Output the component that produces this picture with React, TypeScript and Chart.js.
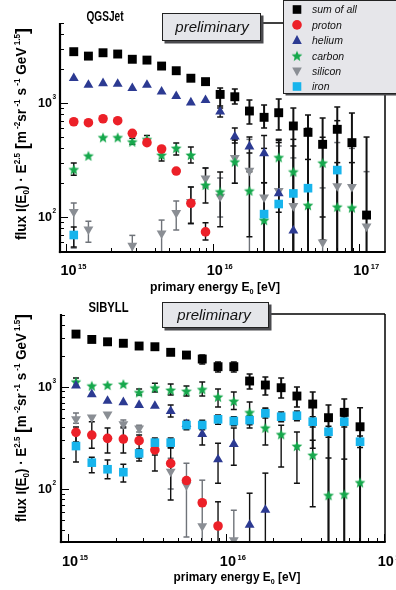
import React, { useEffect, useRef } from "react";
import { Chart, registerables } from "chart.js";
Chart.register(...registerables);

const FONT = '"Liberation Sans", Arial, sans-serif';

// ---------- energy bins (eV) ----------
const energiesTop = [
  1.122e15, 1.413e15, 1.778e15, 2.239e15, 2.818e15, 3.548e15, 4.467e15, 5.623e15, 7.079e15, 8.913e15,
  1.122e16, 1.413e16, 1.778e16, 2.239e16, 2.818e16, 3.548e16, 4.467e16, 5.623e16, 7.079e16, 8.913e16,
  1.122e17,
];
const energiesBottom = [
  1.122e15, 1.413e15, 1.778e15, 2.239e15, 2.818e15, 3.548e15, 4.467e15, 5.623e15, 7.079e15, 8.913e15,
  1.122e16, 1.413e16, 1.778e16, 2.239e16, 2.818e16, 3.548e16, 4.467e16, 5.623e16, 7.079e16,
];

const N = null;

// ---------- QGSJet (top) ----------
const sumTop = [2820, 2580, 2760, 2690, 2420, 2380, 2110, 1920, 1650, 1540, 1190, 1135, 851, 749, 822, 629, 553, 434, 588, 449, 104];
const sumTopLo = [N, N, N, N, N, N, N, N, N, N, 904, 980, 655, 604, 580, 30, 30, 63, 30, 30, 30];
const sumTopHi = [N, N, N, N, N, N, N, N, N, N, 1354, 1327, 1062, 960, 1084, 904, 785, 739, 923, 817, 503];

const protonTop = [685, 672, 728, 700, 542, 449, 395, 253, 132, 74, N, N, N, N, N, N, N, N, N, N, N];
const protonTopLo = [N, N, N, N, N, N, N, N, 88, 63, N, N, N, N, N, N, N, N, N, N, N];
const protonTopHi = [N, N, N, N, N, N, N, N, 183, 89, N, N, N, N, N, N, N, N, N, N, N];

const heliumTop = [1650, 1440, 1490, 1470, 1350, 1440, 1260, 1150, 1010, 1060, 839, 506, 415, 362, 161, 76, N, N, N, N, N];
const heliumTopLo = [N, N, N, N, N, N, N, N, N, N, 754, 446, 249, 200, 30, 30, N, N, N, N, N];
const heliumTopHi = [N, N, N, N, N, N, N, N, N, N, 941, 604, 503, 520, 470, 170, N, N, N, N, N];

const carbonTop = [262, 345, 500, 500, 458, 481, 350, 403, 350, 191, 167, 306, 170, 94, 334, 250, 127, 299, 123, 121, N];
const carbonTopLo = [233, N, N, N, 435, 445, 310, 350, 298, 133, 82, 198, 67, 30, 110, 30, 30, 100, 30, 30, N];
const carbonTopHi = [298, N, N, N, 490, 520, 403, 446, 411, 269, 248, 473, 364, 200, 480, 420, 320, 500, 300, 300, N];

const siliconTop = [111, 78, N, N, 56, N, 72, 109, 136, 218, 151, 330, 255, 149, 170, 125, N, 60, 187, 184, 83];
const siliconTopLo = [53.5, 60, N, N, 30, N, 48, 77, 87, 183, 100, 198, 30, 30, 30, 30, N, 30, 30, 30, 30];
const siliconTopHi = [133, 92, N, N, 69, N, 94, 138, 183, 269, 220, 473, 480, 350, 420, 330, N, 180, 450, 400, 250];

const ironTop = [69.5, N, N, N, N, N, N, N, N, N, N, N, N, 106, 130, 161, 179, N, 258, N, N];
const ironTopLo = [54.6, N, N, N, N, N, N, N, N, N, N, N, N, 30, 30, 30, 30, N, 30, N, N];
const ironTopHi = [81.7, N, N, N, N, N, N, N, N, N, N, N, N, 400, 450, 480, 600, N, 700, N, N];

// ---------- SIBYLL (bottom) ----------
const sumBot = [3270, 2900, 2750, 2660, 2500, 2460, 2170, 2040, 1865, 1570, 1570, 1137, 1039, 978, 811, 677, 498, 562, 406];
const sumBotLo = [N, N, N, N, N, N, N, N, 1667, 1393, 1393, 949, 829, 775, 633, 250, 30, 30, 30];
const sumBotHi = [N, N, N, N, N, N, N, N, 2041, 1743, 1743, 1332, 1244, 1216, 993, 888, 663, 759, 623];

const protonBot = [358, 337, 313, 308, 297, 241, 178, 121, 73.4, 43.5, N, N, N, N, N, N, N, N, N];
const protonBotLo = [288, 251, 225, 225, 201, 150, 78, N, N, 25, N, N, N, N, N, N, N, N, N];
const protonBotHi = [403, 455, 394, 403, 337, 215, 252, N, N, 75, N, N, N, N, N, N, N, N, N];

const heliumBot = [1023, 843, 725, 704, 662, 648, 578, 430, 343, 195, 275, 44.5, 62.4, N, N, N, N, N, N];
const heliumBotLo = [N, N, N, N, N, N, 505, N, 270, 114, 171, 25, 25, N, N, N, N, N, N];
const heliumBotHi = [N, N, N, N, N, N, 662, N, 420, 280, 394, 91, 143, N, N, N, N, N, N];

const carbonBot = [1120, 1023, 1039, 1063, 881, 978, 929, 908, 944, 798, 725, 562, 397, 343, 263, 215, 87, 89, 116];
const carbonBotLo = [1007, N, N, N, 829, 890, 829, 811, 811, 633, 600, 395, 270, 164, 114, 67, 30, 30, 30];
const carbonBotHi = [1215, N, N, N, 949, 1080, 1063, 1015, 1113, 949, 888, 708, 620, 420, 360, 300, 201, 196, 300];

const siliconBot = [483, 502, 537, 432, 392, N, 148, 109, 43.5, N, 31.7, N, N, N, N, N, N, N, N];
const siliconBotLo = [440, N, N, 392, 360, N, 100, 34, 25, N, 25, N, N, N, N, N, N, N, N];
const siliconBotHi = [555, N, N, 472, 420, N, 200, 179, 122, N, 62, N, N, N, N, N, N, N, N];

const ironBot = [263, 181, 156, 146, 223, 284, 284, 422, 422, 480, 462, 472, 550, 509, 521, 455, 363, 455, 290];
const ironBotLo = [184, 144, 126, 117, 188, 255, 255, 380, 380, 430, 415, 425, 495, 455, 465, 405, 320, 405, 255];
const ironBotHi = [337, 205, 192, 175, 246, 315, 315, 470, 470, 530, 510, 520, 605, 565, 580, 510, 410, 510, 330];

// ---------- legend ----------
const legendLabels = ["sum of all", "proton", "helium", "carbon", "silicon", "iron"];

const COLORS = {
  sum: "#000000",
  proton: "#ec2028",
  helium: "#2c3a92",
  carbon: "#16a84c",
  silicon: "#8a8e94",
  iron: "#17b4ec",
};

type Kind = "sum" | "proton" | "helium" | "carbon" | "silicon" | "iron";
type Series = { kind: Kind; vals: (number | null)[]; lo: (number | null)[]; hi: (number | null)[] };

type Seg = { t: string; k?: "sup" | "sub" | "big" };

function segFont(k: Seg["k"], size: number, style: string) {
  const s = k === "sup" || k === "sub" ? size * 0.6 : k === "big" ? size * 1.3 : size;
  return `${style} ${s}px ${FONT}`;
}
function segDy(k: Seg["k"], size: number) {
  if (k === "sup") return -size * 0.45;
  if (k === "sub") return size * 0.22;
  if (k === "big") return size * 0.12;
  return 0;
}
function richWidth(ctx: CanvasRenderingContext2D, segs: Seg[], size: number, style: string) {
  let w = 0;
  for (const s of segs) {
    ctx.font = segFont(s.k, size, style);
    w += ctx.measureText(s.t).width;
  }
  return w;
}
function drawRich(
  ctx: CanvasRenderingContext2D,
  segs: Seg[],
  size: number,
  style: string,
  x: number,
  y: number,
  fitWidth: number,
  rotate = false
) {
  const w = richWidth(ctx, segs, size, style);
  const sx = fitWidth / w;
  ctx.save();
  ctx.translate(x, y);
  if (rotate) ctx.rotate(-Math.PI / 2);
  ctx.scale(sx, 1);
  ctx.textAlign = "left";
  ctx.textBaseline = "alphabetic";
  ctx.fillStyle = "#000";
  let cx = -w / 2;
  for (const s of segs) {
    ctx.font = segFont(s.k, size, style);
    ctx.fillText(s.t, cx, segDy(s.k, size));
    cx += ctx.measureText(s.t).width;
  }
  ctx.restore();
}

function makeStar(color: string, r: number) {
  const size = Math.ceil(r * 2 + 2);
  const c = document.createElement("canvas");
  c.width = size;
  c.height = size;
  const g = c.getContext("2d")!;
  g.beginPath();
  for (let k = 0; k < 10; k++) {
    const rr = k % 2 === 0 ? r : r * 0.45;
    const a = -Math.PI / 2 + (k * Math.PI) / 5;
    const px = size / 2 + rr * Math.cos(a);
    const py = size / 2 + 0.6 + rr * Math.sin(a);
    if (k === 0) g.moveTo(px, py);
    else g.lineTo(px, py);
  }
  g.closePath();
  g.fillStyle = color;
  g.fill();
  return c;
}

function drawMarker(ctx: CanvasRenderingContext2D, kind: Kind, x: number, y: number, star: HTMLCanvasElement) {
  ctx.save();
  ctx.fillStyle = COLORS[kind];
  if (kind === "sum" || kind === "iron") {
    ctx.fillRect(x - 4.3, y - 4.3, 8.6, 8.6);
  } else if (kind === "proton") {
    ctx.beginPath();
    ctx.arc(x, y, 4.8, 0, Math.PI * 2);
    ctx.fill();
  } else if (kind === "helium") {
    ctx.beginPath();
    ctx.moveTo(x, y - 5.2);
    ctx.lineTo(x + 4.8, y + 3.6);
    ctx.lineTo(x - 4.8, y + 3.6);
    ctx.closePath();
    ctx.fill();
  } else if (kind === "silicon") {
    ctx.beginPath();
    ctx.moveTo(x, y + 5.2);
    ctx.lineTo(x + 4.8, y - 3.6);
    ctx.lineTo(x - 4.8, y - 3.6);
    ctx.closePath();
    ctx.fill();
  } else {
    ctx.drawImage(star, x - star.width / 2, y - star.height / 2);
  }
  ctx.restore();
}

type PanelCfg = {
  energies: number[];
  series: Series[];
  pad: { left: number; top: number; right: number; bottom: number };
  xLog: [number, number];
  yLog: [number, number];
  title: string;
  titleX: number;
  titleY: number;
  titleW: number;
  prelim: { x: number; y: number; w: number; h: number; tx: number; ty: number };
  frameTopFrom: number;
  xTitle: { x: number; y: number; w: number };
  yTitle: { x: number; y: number; len: number };
  xLabelBaseline: number;
  legend: boolean;
};

const yTitleSegs: Seg[] = [
  { t: "flux I(E" },
  { t: "0", k: "sub" },
  { t: ") · E" },
  { t: "2.5", k: "sup" },
  { t: " " },
  { t: "[", k: "big" },
  { t: "m" },
  { t: " -2", k: "sup" },
  { t: "sr" },
  { t: " -1", k: "sup" },
  { t: " s" },
  { t: " -1", k: "sup" },
  { t: " GeV" },
  { t: " 1.5", k: "sup" },
  { t: "]", k: "big" },
];
const xTitleSegs: Seg[] = [{ t: "primary energy E" }, { t: "0", k: "sub" }, { t: " [eV]" }];

function makeConfig(cfg: PanelCfg, star: HTMLCanvasElement): any {
  const styleOf: Record<Kind, any> = {
    sum: { pointStyle: "rect", radius: 6.3, rotation: 0 },
    iron: { pointStyle: "rect", radius: 6.1, rotation: 0 },
    proton: { pointStyle: "circle", radius: 4.8, rotation: 0 },
    helium: { pointStyle: "triangle", radius: 5.7, rotation: 0 },
    carbon: { pointStyle: star, radius: 5.5, rotation: 0 },
    silicon: { pointStyle: "triangle", radius: 5.7, rotation: 180 },
  };
  const drawOrder: Kind[] = ["sum", "iron", "proton", "helium", "carbon", "silicon"];
  const datasets = drawOrder
    .map((kind) => cfg.series.find((s) => s.kind === kind)!)
    .map((s) => {
      const data: any[] = [];
      s.vals.forEach((v, i) => {
        if (v == null) return;
        data.push({ x: cfg.energies[i], y: v, lo: s.lo[i], hi: s.hi[i] });
      });
      const st = styleOf[s.kind];
      return {
        label: s.kind,
        kind: s.kind,
        data,
        pointStyle: st.pointStyle,
        pointRadius: st.radius,
        pointRotation: st.rotation,
        pointBackgroundColor: COLORS[s.kind],
        pointBorderWidth: 0,
        pointBorderColor: COLORS[s.kind],
        showLine: false,
      };
    });

  const decor = {
    id: "decor",
    beforeDatasetsDraw(chart: any) {
      const ctx: CanvasRenderingContext2D = chart.ctx;
      const { left, right, top, bottom } = chart.chartArea;
      const xs = chart.scales.x;
      const ys = chart.scales.y;
      ctx.save();
      ctx.beginPath();
      ctx.rect(left, top, right - left, bottom - top);
      ctx.clip();
      for (let d = chart.data.datasets.length - 1; d >= 0; d--) {
        const ds = chart.data.datasets[d];
        const kind: Kind = ds.kind;
        ctx.strokeStyle = kind === "silicon" ? "#6f7379" : "#111";
        const lw = kind === "sum" ? 2 : 1.4;
        for (const p of ds.data) {
          if (p.lo == null || p.hi == null) continue;
          const px = xs.getPixelForValue(p.x);
          const yl = ys.getPixelForValue(p.lo);
          const yh = ys.getPixelForValue(p.hi);
          ctx.lineWidth = lw;
          ctx.beginPath();
          ctx.moveTo(px, yh);
          ctx.lineTo(px, yl);
          ctx.stroke();
          ctx.lineWidth = 1.5;
          ctx.beginPath();
          if (yh > top + 1) {
            ctx.moveTo(px - 3, yh);
            ctx.lineTo(px + 3, yh);
          }
          if (yl < bottom - 1) {
            ctx.moveTo(px - 3, yl);
            ctx.lineTo(px + 3, yl);
          }
          ctx.stroke();
        }
      }
      ctx.restore();
    },
    afterDraw(chart: any) {
      const ctx: CanvasRenderingContext2D = chart.ctx;
      const { left, right, top, bottom } = chart.chartArea;
      const xs = chart.scales.x;
      const ys = chart.scales.y;
      ctx.save();
      ctx.strokeStyle = "#000";
      ctx.fillStyle = "#000";
      const line = (x1: number, y1: number, x2: number, y2: number) => {
        ctx.beginPath();
        ctx.moveTo(x1, y1);
        ctx.lineTo(x2, y2);
        ctx.stroke();
      };
      // frame
      ctx.lineWidth = 1.5;
      line(right, top, right, bottom);
      line(cfg.frameTopFrom, top, right, top);
      ctx.lineWidth = 2.2;
      line(left, top, left, bottom + 1.1);
      line(left - 1.1, bottom, right + 0.75, bottom);
      // x ticks
      ctx.lineWidth = 1;
      for (let e = 14; e <= 17; e++) {
        for (let k = 1; k <= 9; k++) {
          const v = k * Math.pow(10, e);
          if (v < xs.min || v > xs.max) continue;
          const px = Math.round(xs.getPixelForValue(v)) + 0.5;
          line(px, bottom, px, bottom - (k === 1 ? 8 : 4));
        }
      }
      // y ticks
      for (let e = 1; e <= 3; e++) {
        for (let k = 1; k <= 9; k++) {
          const v = k * Math.pow(10, e);
          if (v < ys.min || v > ys.max) continue;
          const py = Math.round(ys.getPixelForValue(v)) + 0.5;
          line(left, py, left + (k === 1 ? 8 : 4), py);
        }
      }
      // x tick labels
      ctx.textAlign = "left";
      ctx.textBaseline = "alphabetic";
      for (let e = 15; e <= 17; e++) {
        const v = Math.pow(10, e);
        if (v < xs.min || v > xs.max * 1.01) continue;
        const px = xs.getPixelForValue(v);
        ctx.font = `bold 14.5px ${FONT}`;
        const w = ctx.measureText("10").width;
        const x0 = px + 2 - w / 2;
        ctx.fillText("10", x0, cfg.xLabelBaseline);
        ctx.font = `bold 7.5px ${FONT}`;
        ctx.fillText(String(e), x0 + w + 1.5, cfg.xLabelBaseline - 6.5);
      }
      // y tick labels
      for (let e = 2; e <= 3; e++) {
        const v = Math.pow(10, e);
        const py = ys.getPixelForValue(v);
        ctx.font = `bold 12.5px ${FONT}`;
        const w = ctx.measureText("10").width;
        ctx.fillText("10", 52 - w, py + 4.4);
        ctx.font = `bold 6.5px ${FONT}`;
        ctx.fillText(String(e), 52.5, py - 3.8);
      }
      // axis titles
      drawRich(ctx, xTitleSegs, 12.5, "bold", cfg.xTitle.x, cfg.xTitle.y, cfg.xTitle.w);
      drawRich(ctx, yTitleSegs, 14, "bold", cfg.yTitle.x, cfg.yTitle.y, cfg.yTitle.len, true);
      // panel title
      drawRich(ctx, [{ t: cfg.title }], 14, "bold", cfg.titleX, cfg.titleY, cfg.titleW);
      // preliminary box
      const pb = cfg.prelim;
      ctx.fillStyle = "#4a4a4e";
      ctx.fillRect(pb.x + 2.5, pb.y + 2.5, pb.w, pb.h);
      ctx.fillStyle = "#e5e6ea";
      ctx.fillRect(pb.x, pb.y, pb.w, pb.h);
      ctx.lineWidth = 1;
      ctx.strokeStyle = "#222";
      ctx.strokeRect(pb.x + 0.5, pb.y + 0.5, pb.w - 1, pb.h - 1);
      ctx.fillStyle = "#111";
      ctx.font = `italic 15px ${FONT}`;
      ctx.textAlign = "center";
      ctx.fillText("preliminary", pb.tx, pb.ty);
      // legend
      if (cfg.legend) {
        const lx = 283.5;
        const ly = 0.5;
        const lw = 120;
        const lh = 93;
        ctx.fillStyle = "#4a4a4e";
        ctx.fillRect(lx + 2, ly + 2, lw, lh);
        ctx.fillStyle = "#e6e6ea";
        ctx.fillRect(lx, ly, lw, lh);
        ctx.strokeStyle = "#222";
        ctx.lineWidth = 1;
        ctx.strokeRect(lx, ly, lw, lh);
        const kinds: Kind[] = ["sum", "proton", "helium", "carbon", "silicon", "iron"];
        ctx.textAlign = "left";
        kinds.forEach((k, i) => {
          const yy = 9.5 + i * 15.4;
          drawMarker(ctx, k, 297, yy, star);
          ctx.fillStyle = "#111";
          ctx.font = `italic 10.5px ${FONT}`;
          ctx.fillText(legendLabels[i], 312, yy + 3.8);
        });
      }
      ctx.restore();
    },
  };

  return {
    type: "scatter",
    data: { datasets },
    options: {
      responsive: false,
      maintainAspectRatio: false,
      animation: false,
      devicePixelRatio: 1,
      events: [],
      layout: { padding: cfg.pad },
      plugins: { legend: { display: false }, tooltip: { enabled: false }, title: { display: false } },
      scales: {
        x: {
          type: "logarithmic",
          display: false,
          bounds: "data",
          min: Math.pow(10, cfg.xLog[0]),
          max: Math.pow(10, cfg.xLog[1]),
        },
        y: {
          type: "logarithmic",
          display: false,
          bounds: "data",
          min: Math.pow(10, cfg.yLog[0]),
          max: Math.pow(10, cfg.yLog[1]),
        },
      },
    },
    plugins: [decor],
  };
}

const topSeries: Series[] = [
  { kind: "sum", vals: sumTop, lo: sumTopLo, hi: sumTopHi },
  { kind: "proton", vals: protonTop, lo: protonTopLo, hi: protonTopHi },
  { kind: "helium", vals: heliumTop, lo: heliumTopLo, hi: heliumTopHi },
  { kind: "carbon", vals: carbonTop, lo: carbonTopLo, hi: carbonTopHi },
  { kind: "silicon", vals: siliconTop, lo: siliconTopLo, hi: siliconTopHi },
  { kind: "iron", vals: ironTop, lo: ironTopLo, hi: ironTopHi },
];
const botSeries: Series[] = [
  { kind: "sum", vals: sumBot, lo: sumBotLo, hi: sumBotHi },
  { kind: "proton", vals: protonBot, lo: protonBotLo, hi: protonBotHi },
  { kind: "helium", vals: heliumBot, lo: heliumBotLo, hi: heliumBotHi },
  { kind: "carbon", vals: carbonBot, lo: carbonBotLo, hi: carbonBotHi },
  { kind: "silicon", vals: siliconBot, lo: siliconBotLo, hi: siliconBotHi },
  { kind: "iron", vals: ironBot, lo: ironBotLo, hi: ironBotHi },
];

const topCfg: PanelCfg = {
  energies: energiesTop,
  series: topSeries,
  pad: { left: 60, top: 23, right: 11, bottom: 43 },
  xLog: [14.956, 17.176],
  yLog: [1.693, 3.702],
  title: "QGSJet",
  titleX: 105,
  titleY: 20.5,
  titleW: 37,
  prelim: { x: 162, y: 13, w: 99, h: 28, tx: 212, ty: 32 },
  frameTopFrom: 262,
  xTitle: { x: 215, y: 291, w: 130 },
  yTitle: { x: 26, y: 134, len: 212 },
  xLabelBaseline: 275,
  legend: true,
};
const botCfg: PanelCfg = {
  energies: energiesBottom,
  series: botSeries,
  pad: { left: 61, top: 19, right: 11, bottom: 48 },
  xLog: [14.955, 17.008],
  yLog: [1.482, 3.711],
  title: "SIBYLL",
  titleX: 108.5,
  titleY: 16.5,
  titleW: 40,
  prelim: { x: 162, y: 7, w: 107, h: 26, tx: 214, ty: 25 },
  frameTopFrom: 268,
  xTitle: { x: 237, y: 286, w: 127 },
  yTitle: { x: 26, y: 123, len: 208 },
  xLabelBaseline: 271,
  legend: false,
};

export default function App() {
  const topRef = useRef<HTMLCanvasElement>(null);
  const botRef = useRef<HTMLCanvasElement>(null);
  useEffect(() => {
    const star = makeStar(COLORS.carbon, 5.6);
    const c1 = new Chart(topRef.current!, makeConfig(topCfg, star));
    const c2 = new Chart(botRef.current!, makeConfig(botCfg, star));
    return () => {
      c1.destroy();
      c2.destroy();
    };
  }, []);
  return (
    <div style={{ position: "absolute", left: 0, top: 0, width: 396, height: 590, background: "#fff", overflow: "hidden" }}>
      <canvas
        ref={topRef}
        width={396}
        height={295}
        style={{ position: "absolute", left: 0, top: 0, width: 396, height: 295, display: "block" }}
      />
      <canvas
        ref={botRef}
        width={396}
        height={295}
        style={{ position: "absolute", left: 0, top: 295, width: 396, height: 295, display: "block" }}
      />
    </div>
  );
}
